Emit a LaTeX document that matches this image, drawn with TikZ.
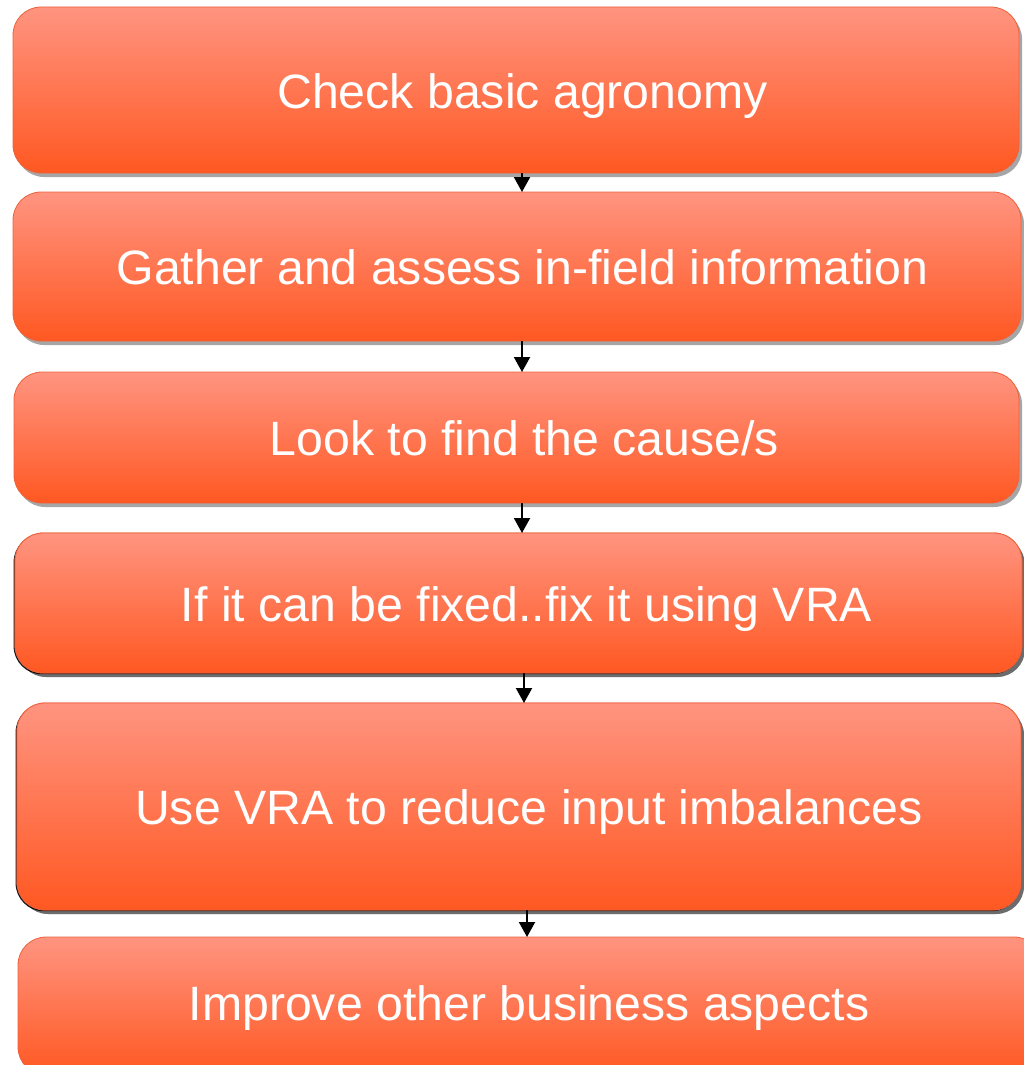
\documentclass[tikz,border=0pt]{standalone}
\usepackage{fontspec}
\setmainfont{Liberation Sans}
\usetikzlibrary{shadows,arrows.meta}
\definecolor{boxtop}{RGB}{255,148,128}
\definecolor{boxbot}{RGB}{255,88,34}
\definecolor{boxline}{RGB}{236,98,60}
\tikzset{
  box/.style={rounded corners=28pt, top color=boxtop, bottom color=boxbot,
    draw=boxline, line width=0.8pt,
    drop shadow={shadow xshift=3pt, shadow yshift=-4pt, opacity=0.35, fill=black}},
  darkedge/.style={drop shadow={shadow xshift=-1.4pt, shadow yshift=-1.2pt, opacity=0.9, fill=black}},
  label/.style={text=white, font=\fontsize{48.2}{58}\selectfont, inner sep=0pt, anchor=base},
  arr/.style={line width=2pt, -{Triangle[width=16pt,length=15pt]}}
}
\begin{document}
\begin{tikzpicture}[x=1pt,y=-1pt]
\useasboundingbox (0,0) rectangle (1024,1065);
% boxes: left, top, right, bottom
\path[box] (13,7) rectangle (1019,173);
\path[box] (13,192) rectangle (1021,341);
\path[box] (14,372) rectangle (1019,503);
\path[box,darkedge] (15,533) rectangle (1022,673);
\path[box] (15,533) rectangle (1022,673);
\path[box,darkedge] (17,703) rectangle (1021,910);
\path[box] (17,703) rectangle (1021,910);
\path[box] (18,937) rectangle (1042,1075);
% texts
\node[label] (t1) at (522.5,108) {Check basic agronomy};
\node[label] (t2) at (522.5,284.5) {Gather and assess in-field information};
\node[label] (t3) at (524.5,455.5) {Look to find the cause/s};
\node[label] (t4) at (526.5,621) {If it can be fixed..fix it using VRA};
\node[label] (t5) at (529,824.5) {Use VRA to reduce input imbalances};
\node[label] (t6) at (529,1020) {Improve other business aspects};
% connector endpoints on box edges
\coordinate (s1) at (522,173); \coordinate (n2) at (522,192);
\coordinate (s2) at (522,341); \coordinate (n3) at (522,372);
\coordinate (s3) at (522,503); \coordinate (n4) at (522,533);
\coordinate (s4) at (524,673); \coordinate (n5) at (524,703);
\coordinate (s5) at (527,910); \coordinate (n6) at (527,937);
\draw[arr] (s1) -- (n2);
\draw[arr] (s2) -- (n3);
\draw[arr] (s3) -- (n4);
\draw[arr] (s4) -- (n5);
\draw[arr] (s5) -- (n6);
\end{tikzpicture}
\end{document}
